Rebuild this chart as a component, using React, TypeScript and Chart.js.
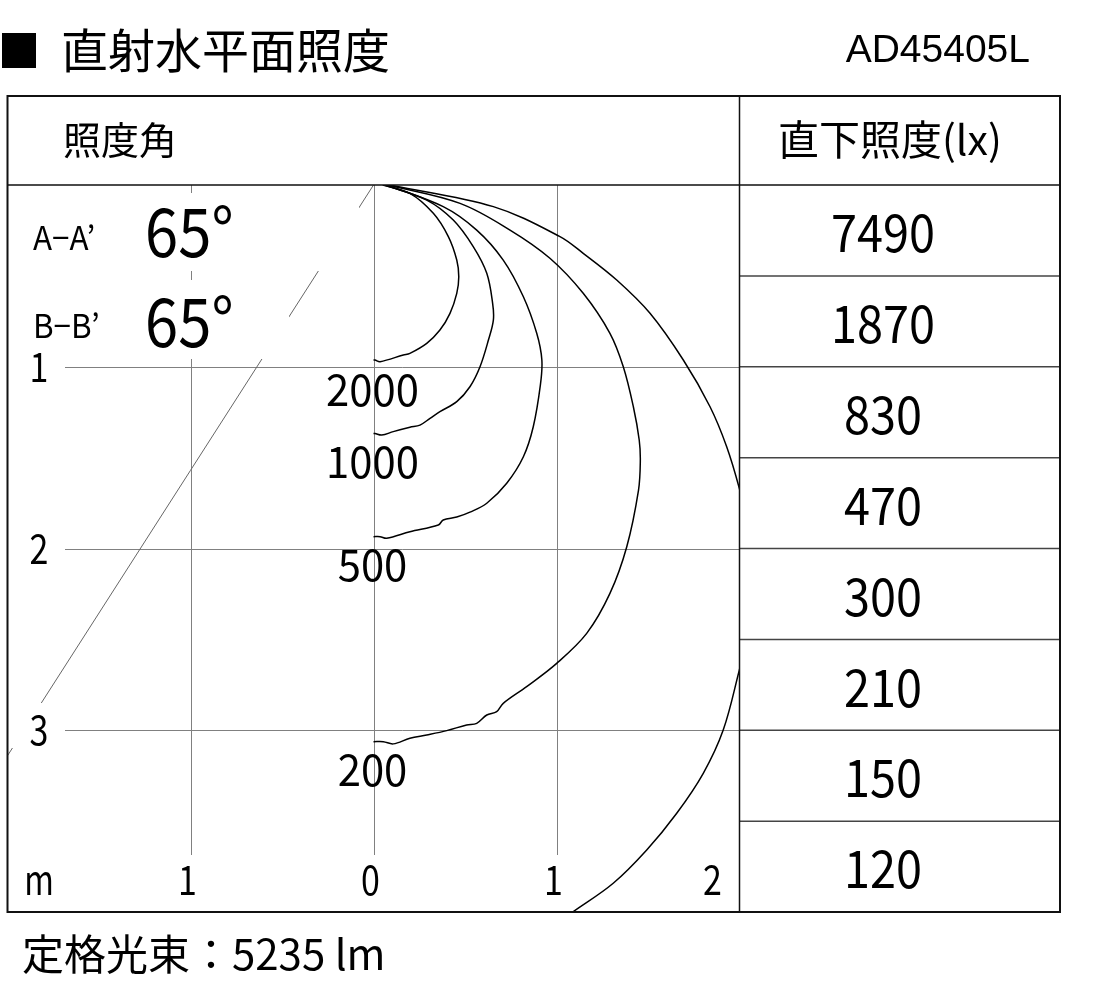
import React, { useEffect, useRef } from 'react';
import { Chart, registerables } from 'chart.js';

Chart.register(...registerables);

// ---- data (metres: x = horizontal distance, y = distance below the fixture) ----
const contour2000 = [
  { x: 0.05, y: 0 }, { x: 0.199, y: 0.046 }, { x: 0.327, y: 0.156 }, { x: 0.409, y: 0.284 },
  { x: 0.455, y: 0.413 }, { x: 0.466, y: 0.505 }, { x: 0.455, y: 0.596 }, { x: 0.418, y: 0.706 },
  { x: 0.363, y: 0.798 }, { x: 0.291, y: 0.871 }, { x: 0.199, y: 0.926 }, { x: 0.163, y: 0.935 },
  { x: 0.036, y: 0.972 }, { x: 0.008, y: 0.963 }, { x: 0, y: 0.963 },
];
const contour1000 = [
  { x: 0.06, y: 0 }, { x: 0.291, y: 0.083 }, { x: 0.436, y: 0.193 }, { x: 0.545, y: 0.339 },
  { x: 0.619, y: 0.486 }, { x: 0.651, y: 0.651 }, { x: 0.655, y: 0.743 }, { x: 0.628, y: 0.853 },
  { x: 0.582, y: 1.0 }, { x: 0.527, y: 1.11 }, { x: 0.455, y: 1.192 }, { x: 0.363, y: 1.247 },
  { x: 0.309, y: 1.284 }, { x: 0.254, y: 1.321 }, { x: 0.199, y: 1.333 }, { x: 0.108, y: 1.357 },
  { x: 0.045, y: 1.376 }, { x: 0.008, y: 1.367 }, { x: 0, y: 1.367 },
];
const contour500 = [
  { x: 0.07, y: 0 }, { x: 0.381, y: 0.119 }, { x: 0.564, y: 0.248 }, { x: 0.709, y: 0.413 },
  { x: 0.819, y: 0.615 }, { x: 0.892, y: 0.816 }, { x: 0.92, y: 0.963 }, { x: 0.912, y: 1.1 },
  { x: 0.873, y: 1.33 }, { x: 0.819, y: 1.495 }, { x: 0.728, y: 1.641 }, { x: 0.619, y: 1.751 },
  { x: 0.527, y: 1.8 }, { x: 0.455, y: 1.827 }, { x: 0.381, y: 1.843 }, { x: 0.354, y: 1.871 },
  { x: 0.199, y: 1.908 }, { x: 0.072, y: 1.944 }, { x: 0.036, y: 1.935 }, { x: 0, y: 1.935 },
];
const contour200 = [
  { x: 0.08, y: 0 }, { x: 0.473, y: 0.101 }, { x: 0.746, y: 0.248 }, { x: 0.964, y: 0.403 },
  { x: 1.146, y: 0.596 }, { x: 1.292, y: 0.816 }, { x: 1.365, y: 1.0 }, { x: 1.42, y: 1.22 },
  { x: 1.452, y: 1.403 }, { x: 1.458, y: 1.52 }, { x: 1.448, y: 1.68 },
  { x: 1.384, y: 1.99 }, { x: 1.292, y: 2.247 }, { x: 1.165, y: 2.467 }, { x: 1.001, y: 2.632 },
  { x: 0.837, y: 2.76 }, { x: 0.709, y: 2.852 }, { x: 0.673, y: 2.898 }, { x: 0.619, y: 2.916 },
  { x: 0.564, y: 2.962 }, { x: 0.509, y: 2.971 }, { x: 0.4, y: 3.002 }, { x: 0.291, y: 3.026 },
  { x: 0.199, y: 3.044 }, { x: 0.108, y: 3.075 }, { x: 0.054, y: 3.063 }, { x: 0, y: 3.063 },
];
// outer contour leaves the plot on the right and comes back lower down
const contourOuterTop = [
  { x: 0.09, y: 0 }, { x: 0.655, y: 0.119 }, { x: 1.019, y: 0.284 }, { x: 1.146, y: 0.376 },
  { x: 1.329, y: 0.523 }, { x: 1.511, y: 0.706 }, { x: 1.693, y: 0.963 }, { x: 1.839, y: 1.22 },
  { x: 1.93, y: 1.44 }, { x: 1.999, y: 1.669 }, { x: 2.04, y: 1.85 },
];
const contourOuterBottom = [
  { x: 2.04, y: 2.5 }, { x: 1.999, y: 2.669 }, { x: 1.911, y: 2.999 }, { x: 1.802, y: 3.237 },
  { x: 1.657, y: 3.457 }, { x: 1.493, y: 3.659 }, { x: 1.31, y: 3.842 }, { x: 1.092, y: 3.998 },
  { x: 1.06, y: 4.02 },
];
const beamEdge = [{ x: 0, y: 0 }, { x: -2, y: 3.14 }];

const contourLabels = ['2000', '1000', '500', '200'];
const contourLabelDepths = [1.122, 1.519, 2.085, 3.213];

const depthTicks = [1, 2, 3];
const depthTickLabels = ['1', '2', '3'];
const widthTicks = [-1, 0, 1, 2];
const widthTickLabels = ['1', '0', '1', '2'];

const directLux = ['7490', '1870', '830', '470', '300', '210', '150', '120'];

const title = '直射水平面照度';
const modelName = 'AD45405L';
const angleHeader = '照度角';
const luxHeader = '直下照度(lx)';
const sectionNames = ['A−A’', 'B−B’'];
const beamAngles = ['65°', '65°'];
const footer = '定格光束：5235 lm';

const JP = '"Noto Sans CJK JP", "Noto Sans", sans-serif';

function txt(
  ctx: CanvasRenderingContext2D, s: string, x: number, y: number, size: number,
  align: CanvasTextAlign = 'center', sx = 1, family = JP, baseline: CanvasTextBaseline = 'middle'
) {
  ctx.save();
  ctx.font = `${size}px ${family}`;
  ctx.fillStyle = '#000';
  ctx.textAlign = align;
  ctx.textBaseline = baseline;
  ctx.translate(x, y);
  ctx.scale(sx, 1);
  ctx.fillText(s, 0, 0);
  ctx.restore();
}

const decorPlugin = {
  id: 'decor',
  beforeDatasetsDraw(chart: any) {
    const { ctx, chartArea: ca, scales } = chart;
    const xs = scales.x, ys = scales.y;
    ctx.save();
    ctx.strokeStyle = '#808080';
    ctx.lineWidth = 1;
    depthTicks.forEach((v) => {
      const py = Math.round(ys.getPixelForValue(v)) + 0.5;
      ctx.beginPath();
      ctx.moveTo(65, py);
      ctx.lineTo(ca.right, py);
      ctx.stroke();
    });
    widthTicks.slice(0, 3).forEach((v) => {
      const px = Math.round(xs.getPixelForValue(v)) + 0.5;
      ctx.beginPath();
      ctx.moveTo(px, ca.top);
      ctx.lineTo(px, ca.bottom - 57);
      ctx.stroke();
    });
    ctx.restore();
  },
  afterDatasetsDraw(chart: any) {
    const { ctx, chartArea: ca, scales } = chart;
    const xs = scales.x, ys = scales.y;
    ctx.save();
    // white backing behind the beam angle block and the "3" label
    ctx.fillStyle = '#fff';
    ctx.fillRect(10, 193, 349, 78);
    ctx.fillRect(10, 280, 279, 79);
    ctx.fillRect(10, 703, 52, 45);

    // beam angle block
    txt(ctx, sectionNames[0], 33, 237, 33, 'left', 0.95);
    txt(ctx, sectionNames[1], 33, 325, 33, 'left', 0.95);
    txt(ctx, beamAngles[0], 145, 231, 68, 'left', 0.88);
    txt(ctx, beamAngles[1], 145, 321, 68, 'left', 0.88);

    // axis labels
    depthTicks.forEach((v, i) => txt(ctx, depthTickLabels[i], 39, ys.getPixelForValue(v), 40, 'center', 0.85));
    const labY = ca.bottom - 32;
    txt(ctx, 'm', 39, labY, 40, 'center', 0.8);
    widthTicks.forEach((v, i) => {
      let px = xs.getPixelForValue(v) - 3;
      if (i === widthTicks.length - 1) px = ca.right - 27;
      txt(ctx, widthTickLabels[i], px, labY, 40, 'center', 0.85);
    });

    // contour labels
    contourLabels.forEach((s, i) => {
      txt(ctx, s, xs.getPixelForValue(0) - 1, ys.getPixelForValue(contourLabelDepths[i]), 44, 'center', 0.95);
    });

    // right table
    const tL = ca.right, tR = 1060, tTop = 96;
    ctx.strokeStyle = '#444';
    ctx.lineWidth = 1.5;
    for (let i = 1; i < directLux.length; i++) {
      const py = ys.getPixelForValue(i * 0.5);
      ctx.beginPath();
      ctx.moveTo(tL, py);
      ctx.lineTo(tR, py);
      ctx.stroke();
    }
    directLux.forEach((s, i) => {
      const py = ys.getPixelForValue(i * 0.5 + 0.25) + 2;
      txt(ctx, s, 883, py, 52, 'center', 0.9);
    });

    // frame
    ctx.strokeStyle = '#111';
    ctx.lineWidth = 2;
    ctx.strokeRect(ca.left, tTop, tR - ca.left, ca.bottom - tTop);
    ctx.lineWidth = 1.5;
    ctx.beginPath();
    ctx.moveTo(ca.left, ca.top);
    ctx.lineTo(tR, ca.top);
    ctx.moveTo(tL, tTop);
    ctx.lineTo(tL, ca.bottom);
    ctx.stroke();

    // headers
    txt(ctx, angleHeader, 63, 140, 38, 'left');
    txt(ctx, luxHeader, 778, 139, 41, 'left');

    // title & model & footer
    ctx.fillStyle = '#000';
    ctx.fillRect(2, 33, 34, 35);
    txt(ctx, title, 61, 50, 47, 'left');
    txt(ctx, modelName, 1030, 62, 39, 'right', 1, '"Liberation Sans", Arial, sans-serif', 'alphabetic');
    txt(ctx, footer, 22, 954, 42, 'left');
    ctx.restore();
  },
};

export default function App() {
  const ref = useRef<HTMLCanvasElement | null>(null);
  useEffect(() => {
    document.body.style.margin = '0';
    const canvas = ref.current!;
    const line = (data: any[], color = '#000', width = 1.5, tension = 0.35) => ({
      data, showLine: true, borderColor: color, borderWidth: width, pointRadius: 0,
      tension, fill: false,
    });
    const chart = new Chart(canvas, {
      type: 'scatter',
      data: {
        datasets: [
          line(beamEdge, '#666', 1, 0),
          line(contour2000),
          line(contour1000),
          line(contour500),
          line(contour200),
          line(contourOuterTop),
          line(contourOuterBottom),
        ],
      },
      options: {
        animation: false,
        responsive: false,
        devicePixelRatio: 1,
        layout: { padding: { left: 7.5, right: 1093 - 739.5, top: 185, bottom: 999 - 912 } },
        plugins: { legend: { display: false }, tooltip: { enabled: false }, title: { display: false } },
        scales: {
          x: { type: 'linear', min: -2, max: 2, display: false },
          y: { type: 'linear', min: 0, max: 4, reverse: true, display: false },
        },
      },
      plugins: [decorPlugin],
    } as any);
    return () => chart.destroy();
  }, []);
  return (
    <div style={{ position: 'absolute', left: 0, top: 0, width: 1093, height: 999, background: '#fff' }}>
      <canvas ref={ref} width={1093} height={999} style={{ display: 'block' }} />
    </div>
  );
}
